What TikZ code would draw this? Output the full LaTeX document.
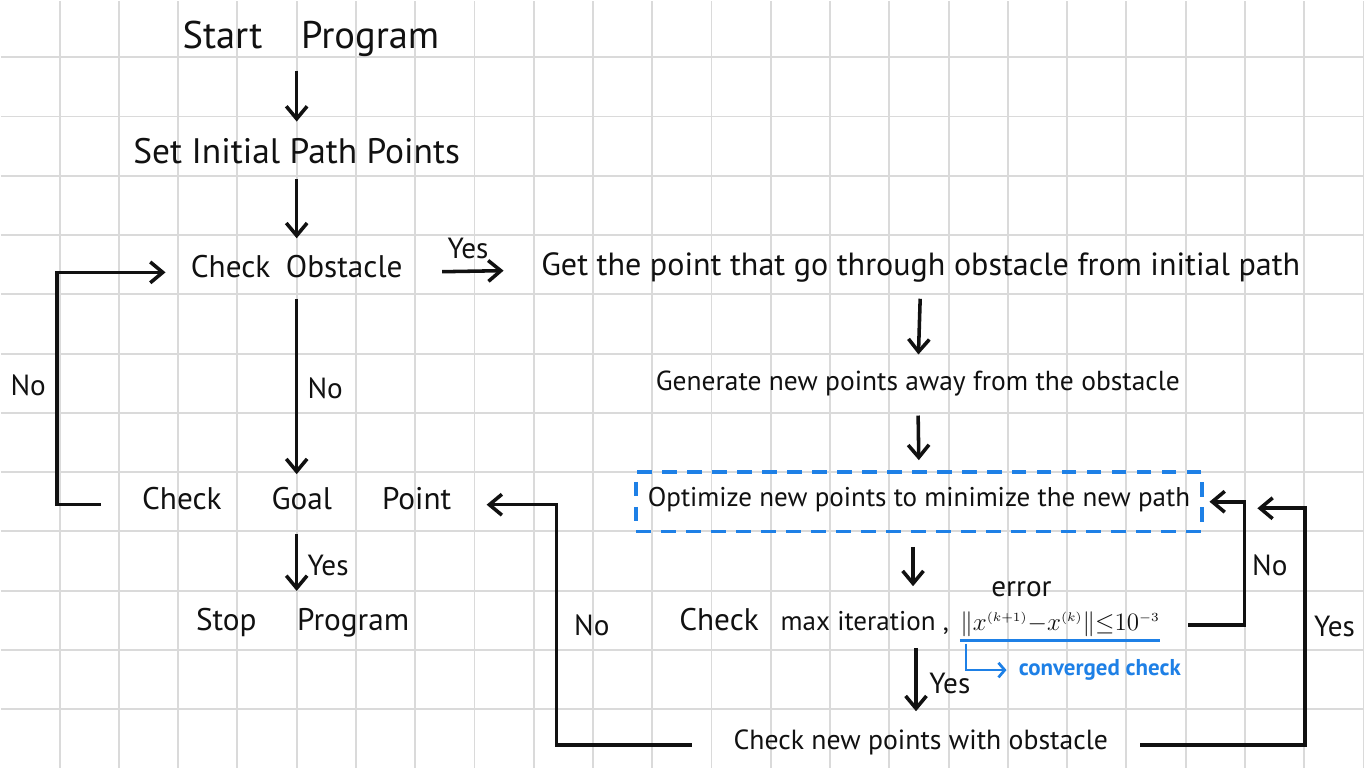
\documentclass[tikz,border=0pt]{standalone}
\usepackage{fontspec}
\setmainfont{PT Sans}
\usepackage{tikz}
\usetikzlibrary{arrows.meta,positioning,calc}
\definecolor{ink}{HTML}{111111}
\definecolor{penblue}{HTML}{1E80E6}
\definecolor{gridgray}{HTML}{DADADA}
\tikzset{
  arr/.style={-{Straight Barb[length=6pt,width=10pt]},line width=1.7pt,draw=ink},
  txt/.style={inner sep=0pt,text height=0.7em,text depth=0.2em,
    font=\fontsize{15}{18}\selectfont,text=ink},
  lbl/.style={inner sep=0pt,font=\fontsize{14}{16}\selectfont,text=ink},
  optbox/.style={txt,draw=penblue,dash pattern=on 7pt off 5pt,line width=1.8pt,
    minimum width=9.54cm,minimum height=1cm},
}
\begin{document}
\begin{tikzpicture}
\fill[white] (0,-12) rectangle (23.02,0.96);
\draw[gridgray,line width=0.9pt] (0.01,-11.99) grid (23.01,0.95);
\useasboundingbox (0,-12) rectangle (23.02,0.96);

\node[txt,font=\fontsize{18.5}{22}\selectfont] (start) at (5.24,0.24) {Start\hspace{1em}Program};
\node[txt,font=\fontsize{17}{20}\selectfont] (setpts) at (5,-1.70) {Set Initial Path Points};
\node[txt] (obst) at (5,-3.63) {Check\hspace{0.5em}Obstacle};
\node[txt,font=\fontsize{15.4}{18}\selectfont] (getpt) at (15.53,-3.59) {Get the point that go through obstacle from initial path};
\node[txt,font=\fontsize{13.2}{16}\selectfont] (gen) at (15.48,-5.53) {Generate new points away from the obstacle};
\node[optbox,font=\fontsize{13}{16}\selectfont] (opt) at (15.5,-7.5) {Optimize new points to minimize the new path};
\node[txt] (chk) at (13.73,-9.58) {Check\hspace{0.7em}{\fontsize{13}{16}\selectfont max iteration ,}};
\node[txt,font=\fontsize{12.2}{14}\selectfont] (err) at (17.88,-9.58)
  {$\|x^{\scriptscriptstyle(k+1)}{-}x^{\scriptscriptstyle(k)}\|{\le}10^{\scriptscriptstyle-3}$};
\node[lbl] (errlbl) at (17.23,-8.97) {error};
\node[txt,font=\fontsize{11}{13}\bfseries,text=penblue] (conv) at (18.55,-10.34) {converged check};
\node[txt,font=\fontsize{13.3}{16}\selectfont] (newpts) at (15.53,-11.60) {Check new points with obstacle};
\node[txt] (goal) at (5,-7.55) {Check\hspace{1.6em}Goal\hspace{1.6em}Point};
\node[txt] (stop) at (5.1,-9.58) {Stop\hspace{1.3em}Program};
\coordinate (yesturn) at (22.01,-7.61);
\coordinate (yesend) at (21.21,-7.61);

\draw[arr,shorten <=0.30cm,shorten >=0.45cm] (start.south -| setpts.north) -- (setpts.north);
\draw[arr,shorten <=0.19cm,shorten >=0.41cm] (setpts.south) -- (setpts.south |- obst.north);
\draw[arr,shorten <=0.66cm,shorten >=0.63cm] (obst.east) -- (getpt.west);
\draw[arr,shorten <=0.28cm,shorten >=0.35cm] (obst.south) -- (goal.north);
\draw[arr,shorten <=0.33cm,shorten >=0.41cm] (goal.south) -- (goal.south |- stop.north);
\draw[arr,shorten <=0.32cm,shorten >=0.35cm] (getpt.south) -- (gen.north);
\draw[arr,shorten <=0.35cm,shorten >=0.17cm] (gen.south) -- (opt.north);
\draw[arr,shorten <=0.23cm,shorten >=0.49cm] ([xshift=-0.1cm]opt.south) -- ([xshift=-0.1cm]opt.south |- chk.north);
\draw[arr,shorten <=0.23cm,shorten >=0.40cm] ([xshift=-0.08cm]newpts.north |- chk.south) -- ([xshift=-0.08cm]newpts.north);
\draw[arr,shorten <=0.47cm,shorten >=0.1cm] (err.east) -| ([xshift=0.69cm]opt.east) -- (opt.east);
\draw[arr,shorten <=0.54cm] (newpts.east) -| (yesturn) -- (yesend);
\draw[arr,shorten <=0.70cm,shorten >=0.59cm] (newpts.west) -| ([xshift=1.77cm]goal.east) -- (goal.east);
\draw[arr,shorten <=0.69cm,shorten >=0.42cm] (goal.west) -| ([xshift=-2.25cm]obst.west) -- (obst.west);

\draw[penblue,line width=1.6pt] ([yshift=-0.1cm]err.south west) -- ([yshift=-0.1cm]err.south east);
\draw[penblue,line width=1.3pt,-{Straight Barb[length=3pt,width=7pt]}] ([xshift=0.1cm,yshift=-0.15cm]err.south west) |- ([xshift=-0.2cm]conv.west);

\node[lbl] (yesobst) at (7.89,-3.22) {Yes};
\node[lbl] (noobst) at (5.48,-5.58) {No};
\node[lbl] (nogoal) at (0.47,-5.53) {No};
\node[lbl] (yesgoal) at (5.53,-8.57) {Yes};
\node[lbl] (nonew) at (9.98,-9.58) {No};
\node[lbl] (yeschk) at (16.02,-10.56) {Yes};
\node[lbl] (noerr) at (21.42,-8.57) {No};
\node[lbl] (yesnew) at (22.51,-9.61) {Yes};
\end{tikzpicture}
\end{document}
